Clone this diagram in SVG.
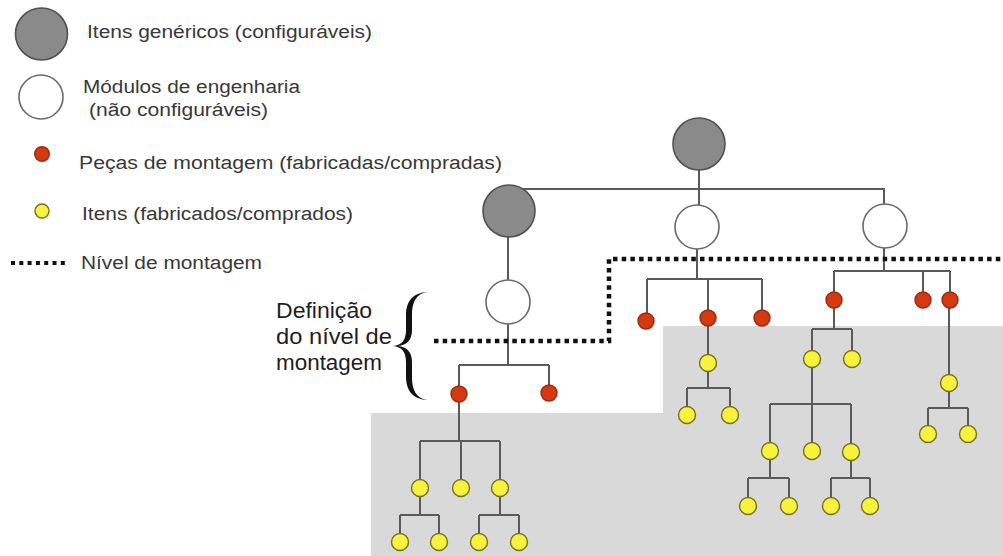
<svg xmlns="http://www.w3.org/2000/svg" width="1003" height="556" viewBox="0 0 1003 556">
  <style>
    .lbl { font-family: "Liberation Sans", Arial, sans-serif; font-size: 18px; fill: #383838; }
    .def { font-family: "Liberation Sans", Arial, sans-serif; font-size: 22px; fill: #1e1e1e; }
    .gen { fill: #8a8a8a; stroke: #505050; stroke-width: 1.6; }
    .mod { fill: #ffffff; stroke: #6a6a6a; stroke-width: 1.6; }
    .peca { fill: #d43a12; stroke: #9a2a10; stroke-width: 1.4; }
    .item { fill: #f6f33c; stroke: #77701e; stroke-width: 1.4; }
    .edge { fill: none; stroke: #5a5a5a; stroke-width: 2; }
    .level { fill: none; stroke: #111111; stroke-width: 4.5; stroke-dasharray: 4.5 4.2; }
  </style>

  <!-- shaded region below the assembly level -->
  <polygon points="371,413 663,413 663,326 1003,326 1003,556 371,556" fill="#d9d9d9"/>

  <!-- legend -->
  <g id="legend">
    <circle class="gen" cx="41.5" cy="34" r="26"/>
    <text class="lbl" x="87" y="38" textLength="285" lengthAdjust="spacingAndGlyphs">Itens genéricos (configuráveis)</text>
    <circle class="mod" cx="41" cy="97" r="22"/>
    <text class="lbl" x="83" y="93" textLength="217" lengthAdjust="spacingAndGlyphs">Módulos de engenharia</text>
    <text class="lbl" x="89" y="116" textLength="179" lengthAdjust="spacingAndGlyphs">(não configuráveis)</text>
    <circle class="peca" cx="42" cy="154" r="7.3"/>
    <text class="lbl" x="79" y="169" textLength="423" lengthAdjust="spacingAndGlyphs">Peças de montagem (fabricadas/compradas)</text>
    <circle class="item" cx="42" cy="211" r="7"/>
    <text class="lbl" x="82" y="220" textLength="271" lengthAdjust="spacingAndGlyphs">Itens (fabricados/comprados)</text>
    <line x1="11" y1="263" x2="68" y2="263" stroke="#111" stroke-width="4" stroke-dasharray="4 4.3"/>
    <text class="lbl" x="81" y="269" textLength="181" lengthAdjust="spacingAndGlyphs">Nível de montagem</text>
  </g>

  <!-- connectors -->
  <g id="connectors" class="edge">
    <!-- top level -->
    <path d="M699 170 V205 M509 189 H884 V204 M508 237 V280"/>
    <!-- left branch -->
    <path d="M508 324 V365 M459 365 H549 M459 365 V394 M549 365 V393"/>
    <path d="M459 394 V441 M420 441 H500 M420 441 V488 M461 441 V488 M500 441 V488"/>
    <path d="M420 488 V515 M400 515 H439 M400 515 V542 M439 515 V542"/>
    <path d="M500 488 V515 M479 515 H519 M479 515 V542 M519 515 V542"/>
    <!-- middle branch -->
    <path d="M697 249 V279 M647 279 H762 M647 279 V321 M708 279 V318 M762 279 V318"/>
    <path d="M708 318 V388 M687 388 H730 M687 388 V415 M730 388 V415"/>
    <!-- right branch -->
    <path d="M884 248 V271 M834 271 H950 M834 271 V300 M923 271 V300 M950 271 V300"/>
    <path d="M834 300 V329 M812 329 H852 M812 329 V359 M852 329 V359"/>
    <path d="M812 359 V404 M770 404 H851 M770 404 V451 M812 404 V451 M851 404 V452"/>
    <path d="M770 451 V478 M748 478 H789 M748 478 V506 M789 478 V506"/>
    <path d="M851 452 V478 M831 478 H870 M831 478 V506 M870 478 V506"/>
    <path d="M949 300 V408 M928 408 H968 M928 408 V434 M968 408 V434"/>
  </g>

  <!-- assembly level boundary -->
  <g id="assembly-level">
    <path class="level" d="M434 341 H609 V259 H1003"/>
  </g>

  <!-- brace and its label -->
  <g id="level-definition">
    <path fill="#111" d="M427 292 C412 293 406 302 406 316 L406 330 C406 340 402 345 393 346 C402 347 406 352 406 362 L406 376 C406 390 412 399 427 400 C416 398 412 390 412 377 L412 362 C412 352 407 347 398 346 C407 345 412 340 412 330 L412 315 C412 302 416 294 427 292 Z"/>
    <text class="def" x="276" y="318" textLength="96" lengthAdjust="spacingAndGlyphs">Definição</text>
    <text class="def" x="276" y="344" textLength="116" lengthAdjust="spacingAndGlyphs">do nível de</text>
    <text class="def" x="276" y="370" textLength="106" lengthAdjust="spacingAndGlyphs">montagem</text>
  </g>

  <!-- generic items -->
  <g id="n-root"><circle class="gen" cx="699" cy="144" r="26"/></g>
  <g id="n-generic-left"><circle class="gen" cx="509" cy="211" r="26"/></g>

  <!-- engineering modules -->
  <g id="n-module-left"><circle class="mod" cx="508" cy="302" r="22"/></g>
  <g id="n-module-mid"><circle class="mod" cx="697" cy="227" r="22"/></g>
  <g id="n-module-right"><circle class="mod" cx="885" cy="226" r="22"/></g>

  <!-- assembly parts -->
  <g id="n-part-l1"><circle class="peca" cx="459" cy="394" r="8"/></g>
  <g id="n-part-l2"><circle class="peca" cx="549" cy="393" r="8"/></g>
  <g id="n-part-m1"><circle class="peca" cx="646" cy="321" r="8"/></g>
  <g id="n-part-m2"><circle class="peca" cx="708" cy="318" r="8"/></g>
  <g id="n-part-m3"><circle class="peca" cx="762" cy="318" r="8"/></g>
  <g id="n-part-r1"><circle class="peca" cx="834" cy="300" r="8"/></g>
  <g id="n-part-r2"><circle class="peca" cx="923" cy="300" r="8"/></g>
  <g id="n-part-r3"><circle class="peca" cx="950" cy="300" r="8"/></g>

  <!-- items, left branch -->
  <g id="n-item-l1"><circle class="item" cx="420" cy="488" r="8.5"/></g>
  <g id="n-item-l2"><circle class="item" cx="461" cy="488" r="8.5"/></g>
  <g id="n-item-l3"><circle class="item" cx="500" cy="488" r="8.5"/></g>
  <g id="n-item-l4"><circle class="item" cx="400" cy="542" r="8.5"/></g>
  <g id="n-item-l5"><circle class="item" cx="439" cy="542" r="8.5"/></g>
  <g id="n-item-l6"><circle class="item" cx="479" cy="542" r="8.5"/></g>
  <g id="n-item-l7"><circle class="item" cx="519" cy="542" r="8.5"/></g>

  <!-- items, middle branch -->
  <g id="n-item-m1"><circle class="item" cx="708" cy="363" r="8.5"/></g>
  <g id="n-item-m2"><circle class="item" cx="687" cy="415" r="8.5"/></g>
  <g id="n-item-m3"><circle class="item" cx="730" cy="415" r="8.5"/></g>

  <!-- items, right branch -->
  <g id="n-item-r1"><circle class="item" cx="812" cy="359" r="8.5"/></g>
  <g id="n-item-r2"><circle class="item" cx="852" cy="359" r="8.5"/></g>
  <g id="n-item-r3"><circle class="item" cx="770" cy="451" r="8.5"/></g>
  <g id="n-item-r4"><circle class="item" cx="812" cy="451" r="8.5"/></g>
  <g id="n-item-r5"><circle class="item" cx="851" cy="452" r="8.5"/></g>
  <g id="n-item-r6"><circle class="item" cx="748" cy="506" r="8.5"/></g>
  <g id="n-item-r7"><circle class="item" cx="789" cy="506" r="8.5"/></g>
  <g id="n-item-r8"><circle class="item" cx="831" cy="506" r="8.5"/></g>
  <g id="n-item-r9"><circle class="item" cx="870" cy="506" r="8.5"/></g>
  <g id="n-item-r10"><circle class="item" cx="949" cy="383" r="8.5"/></g>
  <g id="n-item-r11"><circle class="item" cx="928" cy="434" r="8.5"/></g>
  <g id="n-item-r12"><circle class="item" cx="968" cy="434" r="8.5"/></g>
</svg>
